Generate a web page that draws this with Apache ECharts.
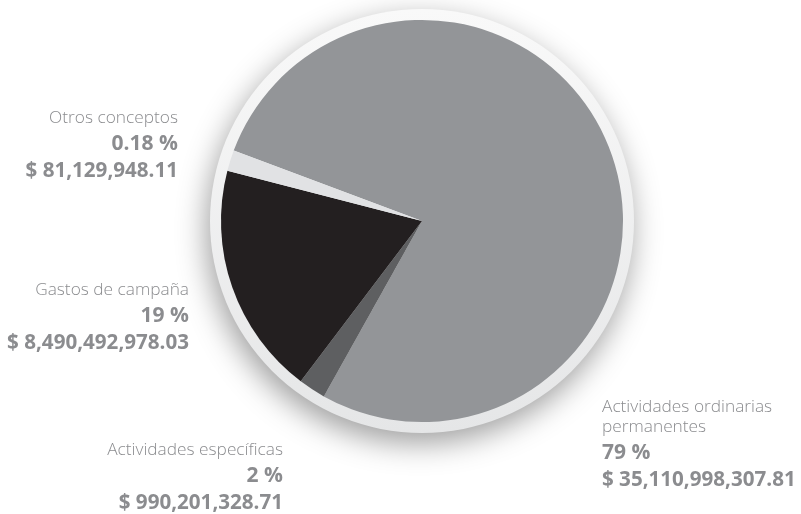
<!DOCTYPE html>
<html>
<head>
<meta charset="utf-8">
<script src="https://cdn.jsdelivr.net/npm/echarts@6/dist/echarts.min.js"></script>
<style>
  html, body { margin: 0; padding: 0; background: #fff; }
  #chart { width: 801px; height: 514px; }
</style>
</head>
<body>
<div id="chart"></div>
<script>
// 数据
const names = ['Actividades ordinarias\npermanentes', 'Actividades específicas', 'Gastos de campaña', 'Otros conceptos'];
const amounts = [35110998307.81, 990201328.71, 8490492978.03, 81129948.11];
const pctLabels = ['79 %', '2 %', '19 %', '0.18 %'];

const sliceColors = ['#939598', '#5e5f61', '#231f20', '#e1e2e4'];
// label positions (layout only)
const labelSpots = [
    { x: 602, y: 397, align: 'left' },
    { x: 283, y: 440, align: 'right' },
    { x: 189, y: 280, align: 'right' },
    { x: 178, y: 108, align: 'right' }
];

const textColor = '#8b8c8f';
const font = '"Open Sans", "DejaVu Sans", sans-serif';

function money(v) {
    return '$ ' + v.toLocaleString('en-US', { minimumFractionDigits: 2, maximumFractionDigits: 2 });
}

function richSet(align) {
    return {
        n: { fontSize: 17.3, fontWeight: 300, lineHeight: 20, color: textColor, fontFamily: font, align: align },
        p: { fontSize: 21, fontWeight: 'bold', lineHeight: 32, color: textColor, fontFamily: font, align: align },
        v: { fontSize: 20.6, fontWeight: 'bold', lineHeight: 22, color: textColor, fontFamily: font, align: align }
    };
}

const data = names.map(function (name, i) {
    return {
        name: name,
        value: amounts[i],
        itemStyle: { color: sliceColors[i] },
        label: { rich: richSet(labelSpots[i].align) }
    };
});

const chart = echarts.init(document.getElementById('chart'), null, { renderer: 'canvas' });

chart.setOption({
    animation: false,
    backgroundColor: '#ffffff',
    series: [{
        // white rim with shadow
        type: 'pie',
        silent: true,
        center: [422, 221],
        radius: [0, 212],
        z: 1,
        label: { show: false },
        labelLine: { show: false },
        emphasis: { disabled: true },
        itemStyle: {
            color: new echarts.graphic.LinearGradient(0, 0, 0, 1, [
                { offset: 0, color: '#f9f9f9' },
                { offset: 1, color: '#e5e6e7' }
            ]),
            shadowBlur: 30,
            shadowColor: 'rgba(0,0,0,0.38)',
            shadowOffsetX: -3,
            shadowOffsetY: 10
        },
        data: [{ value: 1, name: '' }]
    }, {
        type: 'pie',
        silent: true,
        center: [422, 221],
        radius: [0, 201],
        startAngle: 159.5,
        clockwise: true,
        minAngle: 6,
        z: 2,
        emphasis: { disabled: true },
        itemStyle: { borderWidth: 0 },
        labelLine: { show: false },
        label: {
            show: true,
            position: 'inside',
            overflow: 'none',
            formatter: function (p) {
                const i = p.dataIndex;
                const nm = names[i].split('\n').map(function (s) { return '{n|' + s + '}'; }).join('\n');
                return nm + '\n{p|' + pctLabels[i] + '}\n{v|' + money(amounts[i]) + '}';
            }
        },
        labelLayout: function (params) {
            const s = labelSpots[params.dataIndex];
            return { x: s.x, y: s.y, align: s.align, verticalAlign: 'top' };
        },
        data: data
    }]
});
</script>
</body>
</html>
